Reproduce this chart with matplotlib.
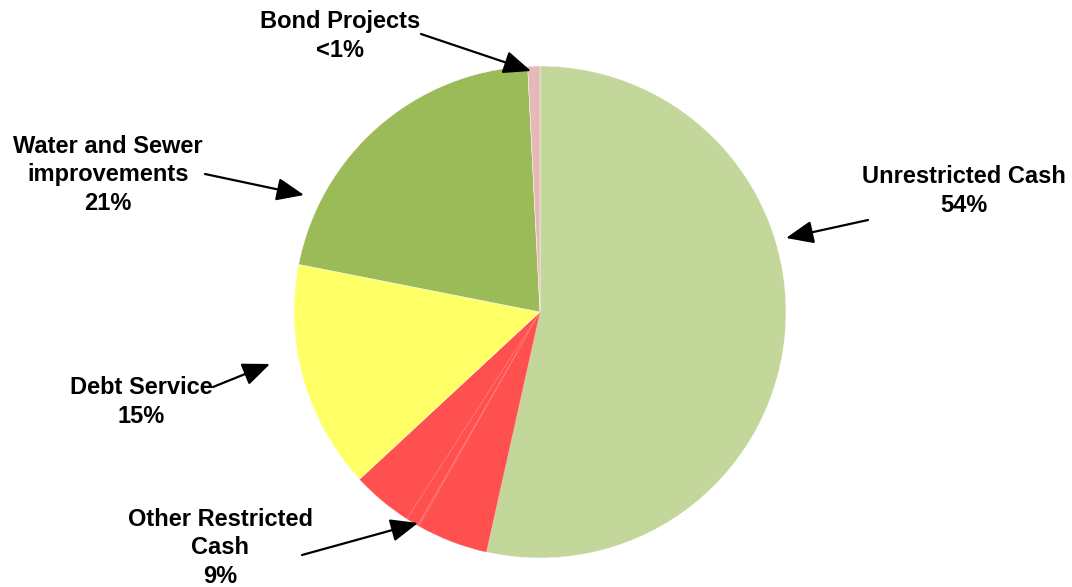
import matplotlib
matplotlib.use("Agg")
import matplotlib.pyplot as plt

# Data (percent of total), clockwise from 12 o'clock
slice_names = ["Unrestricted Cash", "Other Restricted Cash A", "Other Restricted Cash B",
               "Other Restricted Cash C", "Other Restricted Cash D", "Debt Service",
               "Water and Sewer improvements", "Bond Projects"]
slice_values = [53.5, 4.7, 0.1, 0.8, 4.0, 15.0, 21.1, 0.8]
slice_colors = ["#C4D79B", "#FF5050", "#FF5050", "#FF5050", "#FF5050", "#FFFF66",
                "#9BBB59", "#E6B9B8"]

label_texts = ["Unrestricted Cash\n54%", "Other Restricted\nCash\n9%", "Debt Service\n15%",
               "Water and Sewer\nimprovements\n21%", "Bond Projects\n<1%"]

W, H = 1072, 587
fig = plt.figure(figsize=(W / 100, H / 100), dpi=100)
cx, cy, r = 540, 312, 246
ax = fig.add_axes([(cx - r) / W, (H - cy - r) / H, 2 * r / W, 2 * r / H])
ax.set_xlim(-1, 1)
ax.set_ylim(-1, 1)
ax.set_aspect("equal")
ax.axis("off")

ax.pie(slice_values, colors=slice_colors, startangle=90, counterclock=False,
       radius=1, center=(0, 0), frame=False,
       wedgeprops=dict(edgecolor="#FF7F7F", linewidth=0.25))
for w, c in zip(ax.patches, slice_colors):
    if c != "#FF5050":
        w.set_edgecolor("white")
        w.set_linewidth(0.3)
ax.set_xlim(-1, 1)
ax.set_ylim(-1, 1)


def d(px, py):
    return ((px - cx) / r, (cy - py) / r)


font = dict(family=["Liberation Sans", "DejaVu Sans"], fontsize=17, fontweight="bold",
            ha="center", va="center", linespacing=1.28)
arrow = dict(arrowstyle="-|>,head_length=0.6,head_width=0.25", color="black", lw=1.6,
             mutation_scale=28, shrinkA=0, shrinkB=0)

# (text, text centre px, arrow tail px, arrow tip px)
labels = [
    (label_texts[0], (964, 191), (868, 220), (786, 238)),
    (label_texts[1], (220, 548), (302, 555), (418, 523)),
    (label_texts[2], (141, 402), (213, 387), (270, 364)),
    (label_texts[3], (108, 175), (205, 174), (304, 195)),
    (label_texts[4], (340, 36), (421, 34), (531, 71)),
]
for txt, tc, tail, tip in labels:
    ax.text(*d(*tc), txt, **font, clip_on=False)
    ax.annotate("", xy=d(*tip), xytext=d(*tail), arrowprops=arrow, annotation_clip=False)

fig.savefig("out.png", dpi=100)
